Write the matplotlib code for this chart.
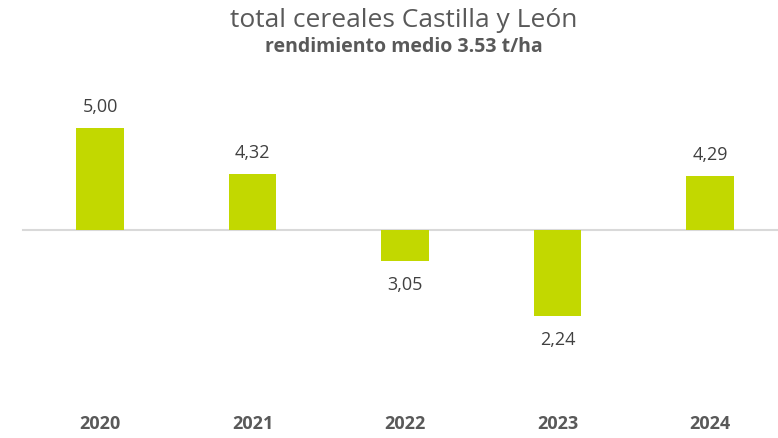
import matplotlib.pyplot as plt
import numpy as np

plt.rcParams['font.family'] = ['Open Sans', 'DejaVu Sans']

years = ['2020', '2021', '2022', '2023', '2024']
rendimiento = [5.00, 4.32, 3.05, 2.24, 4.29]
titulo = 'total cereales Castilla y León'
subtitulo = 'rendimiento medio 3.53 t/ha'
cruce = 3.5  # where the category axis crosses

gris = '#595959'
verde = '#C2D800'

fig = plt.figure(figsize=(7.78, 4.38), dpi=100)
ax = fig.add_axes([0, 38 / 438, 1, 320 / 438])

x = np.arange(len(years))
alturas = np.array(rendimiento) - cruce
ax.bar(x, alturas, width=0.31, bottom=cruce, color=verde, zorder=2)
ax.axhline(cruce, xmin=23 / 778, xmax=1, color='#D9D9D9', lw=1.5, zorder=1)

for xi, v in zip(x, rendimiento):
    txt = f'{v:.2f}'.replace('.', ',')
    if v >= cruce:
        ax.annotate(txt, (xi, v), xytext=(0, 9), textcoords='offset points',
                    ha='center', va='bottom', fontsize=13, color='#404040')
    else:
        ax.annotate(txt, (xi, v), xytext=(0, -11), textcoords='offset points',
                    ha='center', va='top', fontsize=13, color='#404040')

ax.set_xlim(-100 / 152.5, (778 - 100) / 152.5)
ax.set_ylim(1.0, 1.0 + 320 / 68)
ax.set_xticks(x)
ax.set_xticklabels(years, fontsize=13, fontweight='bold', color=gris)
ax.tick_params(axis='x', length=0, pad=11)
ax.set_yticks([])
for s in ax.spines.values():
    s.set_visible(False)

fig.text(404 / 778, 1 - 27 / 438, titulo, ha='center', va='baseline',
         fontsize=19, color=gris)
fig.text(404 / 778, 1 - 52 / 438, subtitulo, ha='center', va='baseline',
         fontsize=14, fontweight='bold', color=gris)

fig.savefig('out.png', dpi=100)
